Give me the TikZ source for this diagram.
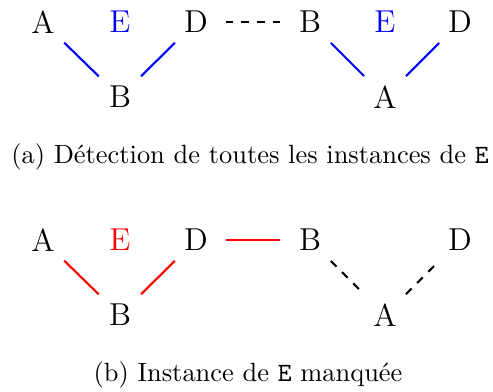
\documentclass[tikz,border=0pt]{standalone}
\usepackage{fontspec}
\begin{document}
\begin{tikzpicture}[x=0.3788pt,y=-0.3788pt,
  lbl/.style={circle,inner sep=0pt,minimum size=22pt,font=\large},
  captext/.style={inner sep=0pt},
  edge/.style={line width=0.8pt}]
\useasboundingbox (0,0) rectangle (493,391);
% (a) first motif
\node[lbl] (a1A) at (43,22) {A};
\node[lbl,text=blue] (a1E) at (120,22) {E};
\node[lbl] (a1D) at (196,22) {D};
\node[lbl] (a1B) at (120,97) {B};
% (a) second motif
\node[lbl] (a2B) at (310,22) {B};
\node[lbl,text=blue] (a2E) at (385,22) {E};
\node[lbl] (a2D) at (460,22) {D};
\node[lbl] (a2A) at (385,97) {A};
\draw[edge,blue] (a1A) -- (a1B) -- (a1D);
\draw[edge,blue] (a2B) -- (a2A) -- (a2D);
\draw[edge,dashed] (a1D) -- (a2B);
\node[captext] (capa) at (250,157) {(a) Détection de toutes les instances de \texttt{E}};
% (b) first motif
\node[lbl] (b1A) at (43,240) {A};
\node[lbl,text=red] (b1E) at (120,240) {E};
\node[lbl] (b1D) at (196,240) {D};
\node[lbl] (b1B) at (120,315) {B};
% (b) second motif
\node[lbl] (b2B) at (310,240) {B};
\node[lbl] (b2D) at (460,240) {D};
\node[lbl] (b2A) at (385,315) {A};
\draw[edge,red] (b1A) -- (b1B) -- (b1D);
\draw[edge,red] (b1D) -- (b2B);
\draw[edge,dashed] (b2B) -- (b2A) -- (b2D);
\node[captext] (capb) at (248,375) {(b) Instance de \texttt{E} manquée};
\end{tikzpicture}
\end{document}
